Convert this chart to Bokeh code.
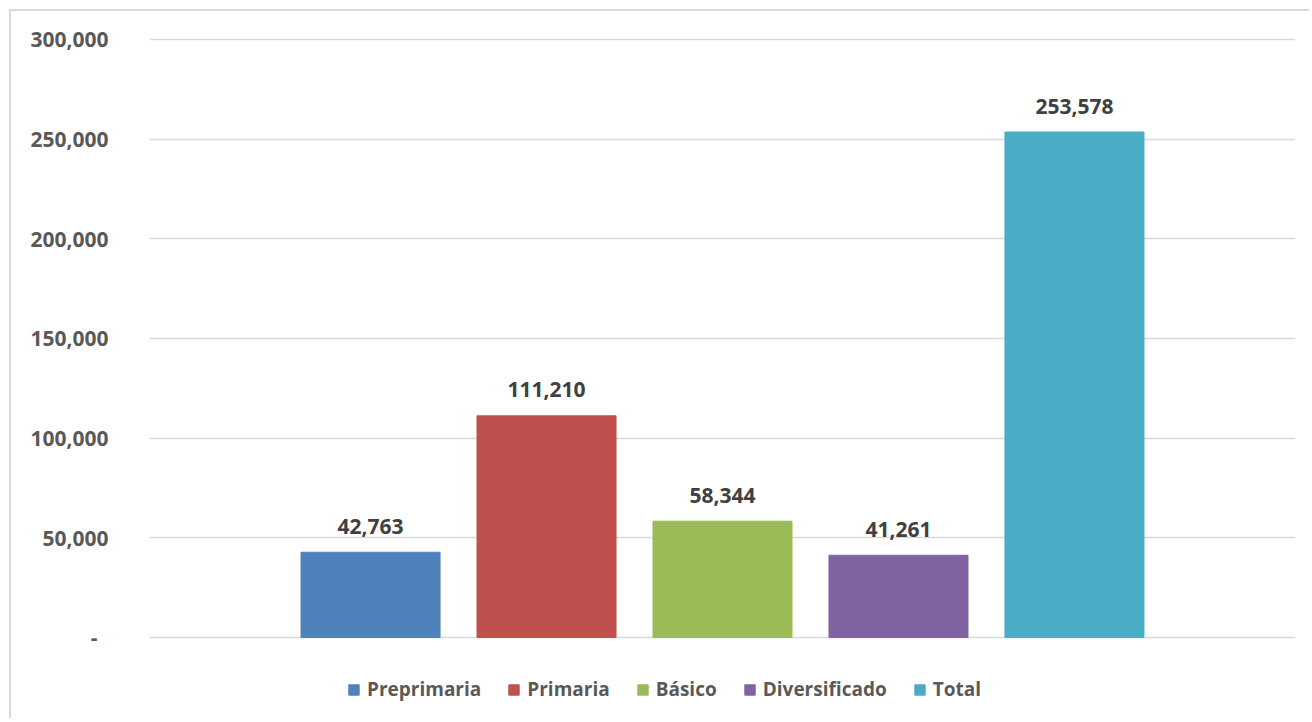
from bokeh.plotting import figure
from bokeh.models import FactorRange, Range1d, FixedTicker, NumeralTickFormatter, ColumnDataSource, Legend, LegendItem
from bokeh.embed import file_html
from bokeh.resources import INLINE
from bokeh.core.properties import value, field

categories = ["Preprimaria", "Primaria", "Básico", "Diversificado", "Total"]
values = [42763, 111210, 58344, 41261, 253578]
colors = ["#4f81bd", "#c0504d", "#9bbb59", "#8064a2", "#4bacc6"]
y_ticks = [0, 50000, 100000, 150000, 200000, 250000, 300000]

labels = [f"{v:,}" for v in values]
src = ColumnDataSource(dict(cat=categories, val=values, color=colors, label=labels))

FONT = "Open Sans"

p = figure(
    width=1300, height=709,
    x_range=FactorRange(*categories, range_padding=0.3024),
    y_range=Range1d(-41639, 301003),
    output_backend="svg", toolbar_location=None,
    min_border_left=138, min_border_top=26, min_border_right=16, min_border_bottom=0,
)
p.styles = {"border-top": "2px solid #d9d9d9", "border-left": "2px solid #d9d9d9",
            "margin-left": "9px", "margin-top": "9px"}
p.outline_line_color = None
p.background_fill_color = "white"
p.border_fill_color = "white"

r = p.vbar(x="cat", top="val", width=0.79, color="color", source=src)
p.text(x="cat", y="val", text="label", source=src, text_font=value(FONT),
       text_font_style="bold", text_font_size="21px", text_color="#404040",
       text_align="center", text_baseline="alphabetic", y_offset=-26)

p.xaxis.visible = False
p.xgrid.visible = False
p.ygrid.grid_line_color = "#d9d9d9"
p.ygrid.grid_line_width = 1.5

ya = p.yaxis[0]
ya.ticker = FixedTicker(ticks=y_ticks)
ya.formatter = NumeralTickFormatter(format="0,0")
ya.major_label_overrides = {0: "-\u00a0\u00a0"}
ya.axis_line_color = None
ya.major_tick_line_color = None
ya.minor_tick_line_color = None
ya.major_label_standoff = 35
ya.major_label_text_font = FONT
ya.major_label_text_font_style = "bold"
ya.major_label_text_font_size = "21px"
ya.major_label_text_color = "#595959"

lg = Legend(items=[LegendItem(label=field("cat"), renderers=[r])])
lg.orientation = "horizontal"
lg.location = (198, 18)
lg.padding = 0
lg.margin = 0
lg.spacing = 26
lg.glyph_width = 13
lg.glyph_height = 13
lg.label_standoff = 7
lg.border_line_color = None
lg.background_fill_alpha = 0
lg.label_text_font = FONT
lg.label_text_font_style = "bold"
lg.label_text_font_size = "19px"
lg.label_text_color = "#595959"
p.add_layout(lg)

open("out.html", "w").write(file_html(p, INLINE))
